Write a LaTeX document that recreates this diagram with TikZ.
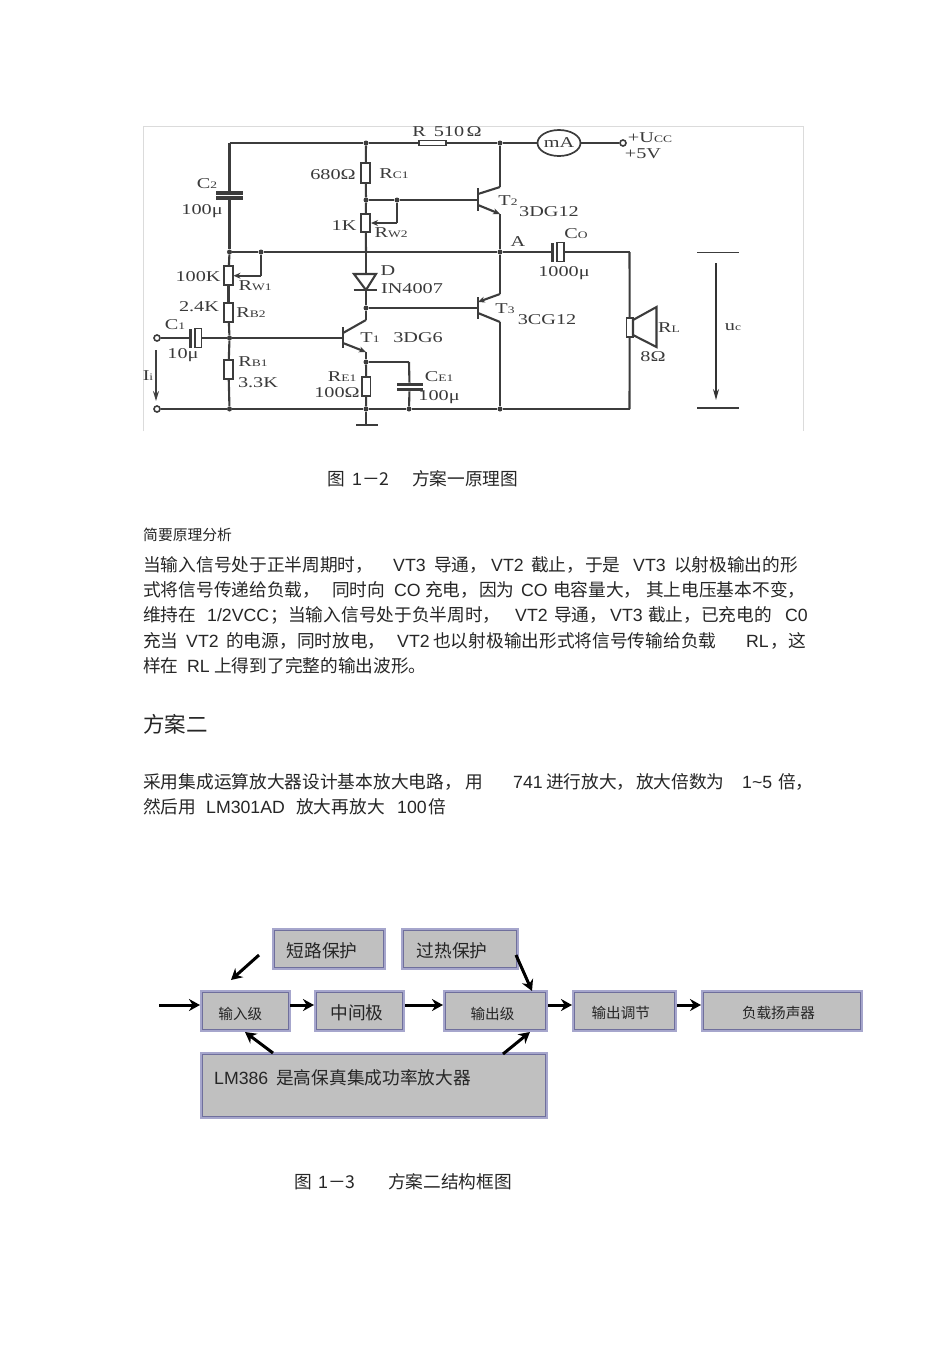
\documentclass[tikz,border=0pt]{standalone}
\usepackage{fontspec}
\usepackage{xcolor}
\usepackage{tikz}
\usetikzlibrary{arrows.meta,shapes.geometric}
\setmainfont{Liberation Sans}
\newfontfamily\cjk{Noto Sans CJK SC}
\newfontfamily\cirfont[FakeStretch=1.35]{Liberation Serif}
\definecolor{wirecol}{HTML}{3C3C3C}
\definecolor{labelcol}{HTML}{3A3A3A}
\definecolor{textcol}{HTML}{262626}
\definecolor{boxfill}{HTML}{C0C0C0}
\definecolor{boxedge}{HTML}{6F6F9C}
\definecolor{boxhalo}{HTML}{A6A6CC}
\newcommand{\zh}[2]{\makebox[#1pt][l]{\cjk #2}}
\newcommand{\en}[2]{\makebox[#1pt][l]{#2}}
\newcommand{\sub}[1]{{\fontsize{10}{10}\selectfont #1}}
\newcommand{\nudged}[3]{\hspace*{#1pt}\raisebox{#2pt}[8pt][8pt]{#3}}
\tikzset{
    wire/.style={color=wirecol, line width=2.1pt},
    thin wire/.style={color=wirecol, line width=1.4pt},
    tip wire/.style={wire, -{Stealth[length=7pt,width=6pt]}},
    junction/.style={shape=circle, fill=wirecol, inner sep=0pt, minimum size=5pt},
    terminal/.style={shape=circle, draw=wirecol, fill=white, line width=1.6pt, inner sep=0pt, minimum size=6pt},
    res/.style={shape=rectangle, draw=wirecol, fill=white, line width=1.8pt, inner sep=0pt},
    plate/.style={shape=rectangle, fill=wirecol, inner sep=0pt},
    lab/.style={text=labelcol, inner sep=0pt, font=\cirfont\fontsize{15}{15}\selectfont},
    textline/.style={anchor=base west, inner sep=0pt, text=textcol, font=\fontsize{17.7}{20}\selectfont},
    blockbox/.style={shape=rectangle, fill=boxfill, draw=boxedge, line width=1.4pt, inner sep=0pt,
        preaction={draw=boxhalo, line width=5pt}, text=textcol, font=\cjk\fontsize{17.7}{20}\selectfont},
    smallbox/.style={blockbox, font=\cjk\fontsize{14.6}{18}\selectfont},
    flow/.style={color=black, line width=3pt, -{Stealth[length=11pt,width=12pt]}}
}
\begin{document}
\begin{tikzpicture}[x=1pt, y=-1pt]
            \useasboundingbox (0,0) rectangle (950,1345);
            \fill[white] (0,0) rectangle (950,1345);

            \coordinate (FA) at (143,431);
            \coordinate (FB) at (143,126);
            \coordinate (FC) at (803,126);
            \coordinate (FD) at (803,431);
            \path [color=black!14, line width=0.8pt] (FA) edge (FB) (FB) edge (FC) (FC) edge (FD);

            \coordinate (Ltop) at (229.5,143);
            \node[junction] (Jt) at (366,143) {};
            \node[junction] (Jc) at (500,143) {};
            \node[res, minimum width=27pt, minimum height=5pt] (R510) at (432.5,143) {};
            \node[shape=ellipse, draw=wirecol, fill=white, line width=1.7pt, inner sep=0pt, minimum width=33pt, minimum height=26pt, lab] (mA) at (559,143) {mA};
            \node[terminal] (Vcc) at (623,143) {};
            \node[plate, minimum width=27pt, minimum height=3.2pt] (C2a) at (229.5,193) {};
            \node[plate, minimum width=27pt, minimum height=3.2pt] (C2b) at (229.5,198) {};
            \node[junction] (J252) at (229.5,252) {};
            \node[junction] (W1c) at (261,252) {};
            \coordinate (W1d) at (261,275.7);
            \coordinate (W1e) at (233.5,275.7);
            \node[res, minimum width=8.5pt, minimum height=19.5pt] (RW1) at (228.5,275.5) {};
            \node[res, minimum width=8.5pt, minimum height=19.5pt] (RB2) at (228.5,312.5) {};
            \node[junction] (J338) at (229.5,338) {};
            \node[res, minimum width=8.5pt, minimum height=19.5pt] (RB1) at (228.5,369.5) {};
            \node[junction] (J229b) at (229.5,409) {};

            \node[terminal] (Tin) at (157,338) {};
            \node[terminal] (Tb) at (157,409) {};
            \node[plate, minimum width=3pt, minimum height=19pt] (C1a) at (190.7,338) {};
            \node[res, minimum width=6.5pt, minimum height=19pt] (C1b) at (198.3,338) {};
            \coordinate (Ia) at (156,350);
            \coordinate (Ib) at (156,401);

            \node[res, minimum width=9pt, minimum height=19.5pt] (RC1) at (365.7,173) {};
            \node[junction] (J200) at (366,200) {};
            \node[junction] (J397) at (397,200) {};
            \coordinate (W2d) at (397,223);
            \coordinate (W2e) at (371,223);
            \node[res, minimum width=9pt, minimum height=18.5pt] (RW2) at (365.7,223) {};
            \coordinate (X252) at (366,252);
            \coordinate (Dt) at (366,274);
            \coordinate (Db) at (366,290);
            \coordinate (Dl) at (354,274);
            \coordinate (Dr) at (376,274);
            \coordinate (Dbl) at (353.5,290);
            \coordinate (Dbr) at (376.5,290);
            \node[junction] (J308) at (366,308) {};

            \coordinate (T1u) at (343,327);
            \coordinate (T1d) at (343,348);
            \coordinate (T1b) at (343,338);
            \coordinate (T1c) at (343,333);
            \coordinate (T1k) at (366,320);
            \coordinate (T1e) at (343,343);
            \coordinate (T1f) at (366,352);
            \node[junction] (J362) at (366,362) {};
            \node[res, minimum width=8.5pt, minimum height=19pt] (RE1) at (366.3,386.2) {};
            \node[junction] (J366b) at (366,409) {};
            \coordinate (Gnd) at (366,425);
            \coordinate (Gl) at (356,425);
            \coordinate (Gr) at (378,425);
            \coordinate (CEc) at (409,362);
            \node[plate, minimum width=26pt, minimum height=3.2pt] (CE1a) at (409.5,384.5) {};
            \node[plate, minimum width=26pt, minimum height=3.2pt] (CE1b) at (409.5,389.5) {};
            \node[junction] (J409b) at (409,409) {};

            \coordinate (T2u) at (478,188);
            \coordinate (T2d) at (478,211);
            \coordinate (T2b) at (478,200);
            \coordinate (T2c) at (478,194);
            \coordinate (T2k) at (500,187);
            \coordinate (T2e) at (478,205);
            \coordinate (T2f) at (500,214);
            \node[junction] (JA) at (500,252) {};
            \coordinate (T3u) at (478,297);
            \coordinate (T3d) at (478,319);
            \coordinate (T3b) at (478,308);
            \coordinate (T3c) at (478,302);
            \coordinate (T3k) at (500,294);
            \coordinate (T3e) at (478,313);
            \coordinate (T3f) at (500,322);
            \node[junction] (J500b) at (500,409) {};

            \node[plate, minimum width=3pt, minimum height=19pt] (C0a) at (552.7,252) {};
            \node[res, minimum width=6.5pt, minimum height=19pt] (C0b) at (560.5,252) {};
            \coordinate (Sa) at (629.5,252);
            \coordinate (Sb) at (629.5,409);
            \node[res, minimum width=6.5pt, minimum height=19.5pt] (Spk) at (629.7,327.5) {};
            \coordinate (Sc) at (633,320);
            \coordinate (Sd) at (656.5,307);
            \coordinate (Se) at (656.5,347);
            \coordinate (Sf) at (633,335);

            \coordinate (Ua) at (697,252.7);
            \coordinate (Ub) at (739,252.7);
            \coordinate (Uc) at (697,408);
            \coordinate (Ud) at (739,408);
            \coordinate (Ue) at (716,263);
            \coordinate (Uf) at (716,400);

            \path [wire] (Ltop) edge (Jt);
            \path [wire] (Jt) edge (R510);
            \path [wire] (R510) edge (Jc);
            \path [wire] (Jc) edge (mA);
            \path [wire] (mA) edge (Vcc);
            \path [wire] (Ltop) edge (C2a);
            \path [wire] (C2b) edge (J252);
            \path [wire] (J252) edge (RW1);
            \path [wire] (RW1) edge (RB2);
            \path [wire] (RB2) edge (J338);
            \path [wire] (J338) edge (RB1);
            \path [wire] (RB1) edge (J229b);
            \path [wire] (J252) edge (W1c);
            \path [wire] (W1c) edge (W1d);
            \path [tip wire] (W1d) edge (W1e);
            \path [wire] (W1c) edge (X252);
            \path [wire] (X252) edge (JA);
            \path [thin wire] (JA) edge (C0a);
            \path [wire] (C0b) edge (Sa);
            \path [wire] (Sa) edge (Spk);
            \path [wire] (Spk) edge (Sb);

            \path [thin wire] (Tin) edge (C1a);
            \path [wire] (C1b) edge (J338);
            \path [wire] (J338) edge (T1b);
            \path [wire] (Tb) edge (J229b);
            \path [wire] (J229b) edge (J366b);
            \path [wire] (J366b) edge (J409b);
            \path [wire] (J409b) edge (J500b);
            \path [wire] (J500b) edge (Sb);
            \path [color=black!75, line width=1.5pt, -{Stealth[length=10pt,width=6pt]}] (Ia) edge (Ib);

            \path [wire] (Jt) edge (RC1);
            \path [wire] (RC1) edge (J200);
            \path [wire] (J200) edge (RW2);
            \path [wire] (RW2) edge (X252);
            \path [wire] (X252) edge (Dt);
            \path [wire] (Db) edge (J308);
            \path [wire] (J200) edge (J397);
            \path [wire] (J397) edge (T2b);
            \path [wire] (J397) edge (W2d);
            \path [tip wire] (W2d) edge (W2e);
            \path [wire] (J308) edge (T3b);
            \draw [wire, fill=white] (Dl) -- (Dr) -- (Db) -- cycle;
            \path [wire] (Dbl) edge (Dbr);

            \path [wire] (J308) edge (T1k);
            \path [wire] (T1k) edge (T1c);
            \path [wire] (T1u) edge (T1d);
            \path [tip wire] (T1e) edge (T1f);
            \path [wire] (T1f) edge (J362);
            \path [wire] (J362) edge (RE1);
            \path [wire] (RE1) edge (J366b);
            \path [wire] (J366b) edge (Gnd);
            \path [wire] (Gl) edge (Gr);
            \path [wire] (J362) edge (CEc);
            \path [wire] (CEc) edge (CE1a);
            \path [wire] (CE1b) edge (J409b);

            \path [wire, line width=2.5pt] (Jc) edge (T2k);
            \path [wire] (T2k) edge (T2c);
            \path [wire] (T2u) edge (T2d);
            \path [tip wire] (T2e) edge (T2f);
            \path [wire, line width=2.5pt] (T2f) edge (JA);
            \path [wire, line width=2.5pt] (JA) edge (T3k);
            \path [tip wire] (T3k) edge (T3c);
            \path [wire] (T3u) edge (T3d);
            \path [wire] (T3e) edge (T3f);
            \path [wire] (T3f) edge (J500b);

            \draw [wire, fill=white] (Sc) -- (Sd) -- (Se) -- (Sf) -- cycle;
            \path [thin wire] (Ua) edge (Ub);
            \path [thin wire] (Uc) edge (Ud);
            \path [color=black!80, line width=1.4pt, -{Stealth[length=11pt,width=6pt]}] (Ue) edge (Uf);

            \node[lab] (lR510) at (447,132) {R\hspace{8pt}510$\,$Ω};
            \node[lab] (lUcc) at (650,138) {+U\sub{CC}};
            \node[lab] (l5V) at (643,154) {+5V};
            \node[lab] (lC2) at (207,184) {C\sub{2}};
            \node[lab] (l100a) at (202,211) {100μ};
            \node[lab] (l680) at (333,175) {680Ω};
            \node[lab] (lRC1) at (394,174) {R\sub{C1}};
            \node[lab] (l1K) at (344,226) {1K};
            \node[lab] (lRW2) at (391,233) {R\sub{W2}};
            \node[lab] (l100K) at (198,277) {100K};
            \node[lab] (lRW1) at (255,286) {R\sub{W1}};
            \node[lab] (l24K) at (199,307) {2.4K};
            \node[lab] (lRB2) at (251,313) {R\sub{B2}};
            \node[lab] (lC1) at (175,325) {C\sub{1}};
            \node[lab] (l10) at (183,355) {10μ};
            \node[lab] (lRB1) at (253,362) {R\sub{B1}};
            \node[lab] (l33K) at (258,383) {3.3K};
            \node[lab] (lIi) at (148,376) {I\sub{i}};
            \node[lab] (lD) at (388,271) {D};
            \node[lab] (lIN) at (412,289) {IN4007};
            \node[lab] (lT1) at (370,338) {T\sub{1}};
            \node[lab] (lDG6) at (418,338) {3DG6};
            \node[lab] (lRE1) at (342,377) {R\sub{E1}};
            \node[lab] (l100R) at (337,393) {100Ω};
            \node[lab] (lCE1) at (439,377) {C\sub{E1}};
            \node[lab] (l100b) at (439,397) {100μ};
            \node[lab] (lT2) at (508,201) {T\sub{2}};
            \node[lab] (lDG12) at (549,212) {3DG12};
            \node[lab] (lT3) at (505,309) {T\sub{3}};
            \node[lab] (lCG12) at (547,320) {3CG12};
            \node[lab] (lA) at (518,242) {A};
            \node[lab] (lC0) at (576,234) {C\sub{O}};
            \node[lab] (l1000) at (564,273) {1000μ};
            \node[lab] (lRL) at (669,328) {R\sub{L}};
            \node[lab] (l8R) at (653,357) {8Ω};
            \node[lab] (lUo) at (733,327) {u\sub{c}};

            \node[textline] (cap2) at (327,485) {\zh{25}{图}\en{10}{1}\zh{50}{－2}\zh{110}{方案一原理图}};
            \node[textline, font=\cjk\fontsize{14.8}{18}\selectfont] (intro) at (143,540) {简要原理分析};

            \node[textline] (p1) at (143,571.5) {\zh{250}{当输入信号处于正半周期时，}\en{41}{VT3}\zh{57}{导通，}\en{40}{VT2}\zh{54}{截止，}\zh{48}{于是}\en{41}{VT3}\zh{125}{以射极输出的形}};
            \node[textline] (p2) at (143,596.5) {\zh{189}{式将信号传递给负载，}\zh{62}{同时向}\en{31}{CO}\zh{54}{充电，}\zh{42}{因为}\en{32}{CO}\zh{93}{电容量大，}\zh{160}{其上电压基本不变，}};
            \node[textline] (p3) at (143,621.5) {\zh{64}{维持在}\en{63.5}{1/2VCC}\zh{17.5}{；}\zh{227}{当输入信号处于负半周时，}\en{39}{VT2}\zh{56}{导通，}\en{38}{VT3}\zh{137}{截止，已充电的}\en{25}{C0}};
            \node[textline] (p4) at (143,647.5) {\zh{43}{充当}\en{40}{VT2}\zh{171}{的电源，同时放电，}\en{36}{VT2}\zh{313}{也以射极输出形式将信号传输给负载}\en{24}{RL}\zh{18}{，}\zh{20}{这}};
            \node[textline] (p5) at (143,672.5) {\zh{44}{样在}\en{27}{RL}\zh{220}{上得到了完整的输出波形。}};

            \node[textline, font=\cjk\fontsize{21.5}{24}\selectfont] (plan) at (143,732.5) {方案二};
            \node[textline] (q1) at (143,788.5) {\zh{322}{采用集成运算放大器设计基本放大电路，}\zh{48}{用}\en{33}{741}\zh{90}{进行放大，}\zh{106}{放大倍数为}\en{36}{1\textasciitilde 5}\zh{20}{倍，}};
            \node[textline] (q2) at (143,813.5) {\zh{63}{然后用}\en{90}{LM301AD}\zh{101}{放大再放大}\en{31}{100}\zh{20}{倍}};

            \node[blockbox, minimum width=109pt, minimum height=37pt] (short) at (329,949) {\nudged{-14}{-8.7}{短路保护}};
            \node[blockbox, minimum width=113pt, minimum height=37pt] (heat) at (460,949) {\nudged{-16}{-8.7}{过热保护}};
            \node[smallbox, minimum width=86pt, minimum height=37pt] (input) at (245.3,1011) {\nudged{-10}{-8.5}{输入级}};
            \node[blockbox, minimum width=86pt, minimum height=37pt] (middle) at (359.5,1011) {\nudged{-5}{-8.7}{中间极}};
            \node[smallbox, minimum width=100pt, minimum height=37pt] (output) at (495.5,1011) {\nudged{-6}{-8.5}{输出级}};
            \node[smallbox, minimum width=100pt, minimum height=37pt] (adjust) at (624.3,1011) {\nudged{-7}{-7.5}{输出调节}};
            \node[smallbox, minimum width=157pt, minimum height=37pt] (load) at (782,1011) {\nudged{-7}{-7.5}{负载扬声器}};
            \node[blockbox, minimum width=343pt, minimum height=62pt] (lm) at (374,1085.5) {};
            \node[textline] (lmtext) at (214,1084) {\en{62}{LM386}\zh{200}{是高保真集成功率放大器}};

            \coordinate (inl) at (159,1005);
            \coordinate (ina) at (200,1005);
            \coordinate (Sha) at (259,955);
            \coordinate (Shb) at (231,980);
            \coordinate (Hta) at (516,955);
            \coordinate (Htb) at (532,991);
            \coordinate (Lma) at (273,1053);
            \coordinate (Lmb) at (245,1032);
            \coordinate (Lmc) at (503,1054);
            \coordinate (Lmd) at (530,1032);
            \coordinate (mia) at (290,1005);
            \coordinate (mib) at (314,1005);
            \coordinate (oua) at (405,1005);
            \coordinate (oub) at (443,1005);
            \coordinate (ada) at (548,1005);
            \coordinate (adb) at (572,1005);
            \coordinate (loa) at (677,1005);
            \coordinate (lob) at (701,1005);

            \path [flow] (inl) edge (ina);
            \path [flow] (mia) edge (mib);
            \path [flow] (oua) edge (oub);
            \path [flow] (ada) edge (adb);
            \path [flow] (loa) edge (lob);
            \path [flow] (Sha) edge (Shb);
            \path [flow] (Hta) edge (Htb);
            \path [flow] (Lma) edge (Lmb);
            \path [flow] (Lmc) edge (Lmd);

            \node[textline] (cap3) at (294,1188) {\zh{24}{图}\en{10}{1}\zh{60}{－3}\zh{125}{方案二结构框图}};
\end{tikzpicture}
\end{document}
